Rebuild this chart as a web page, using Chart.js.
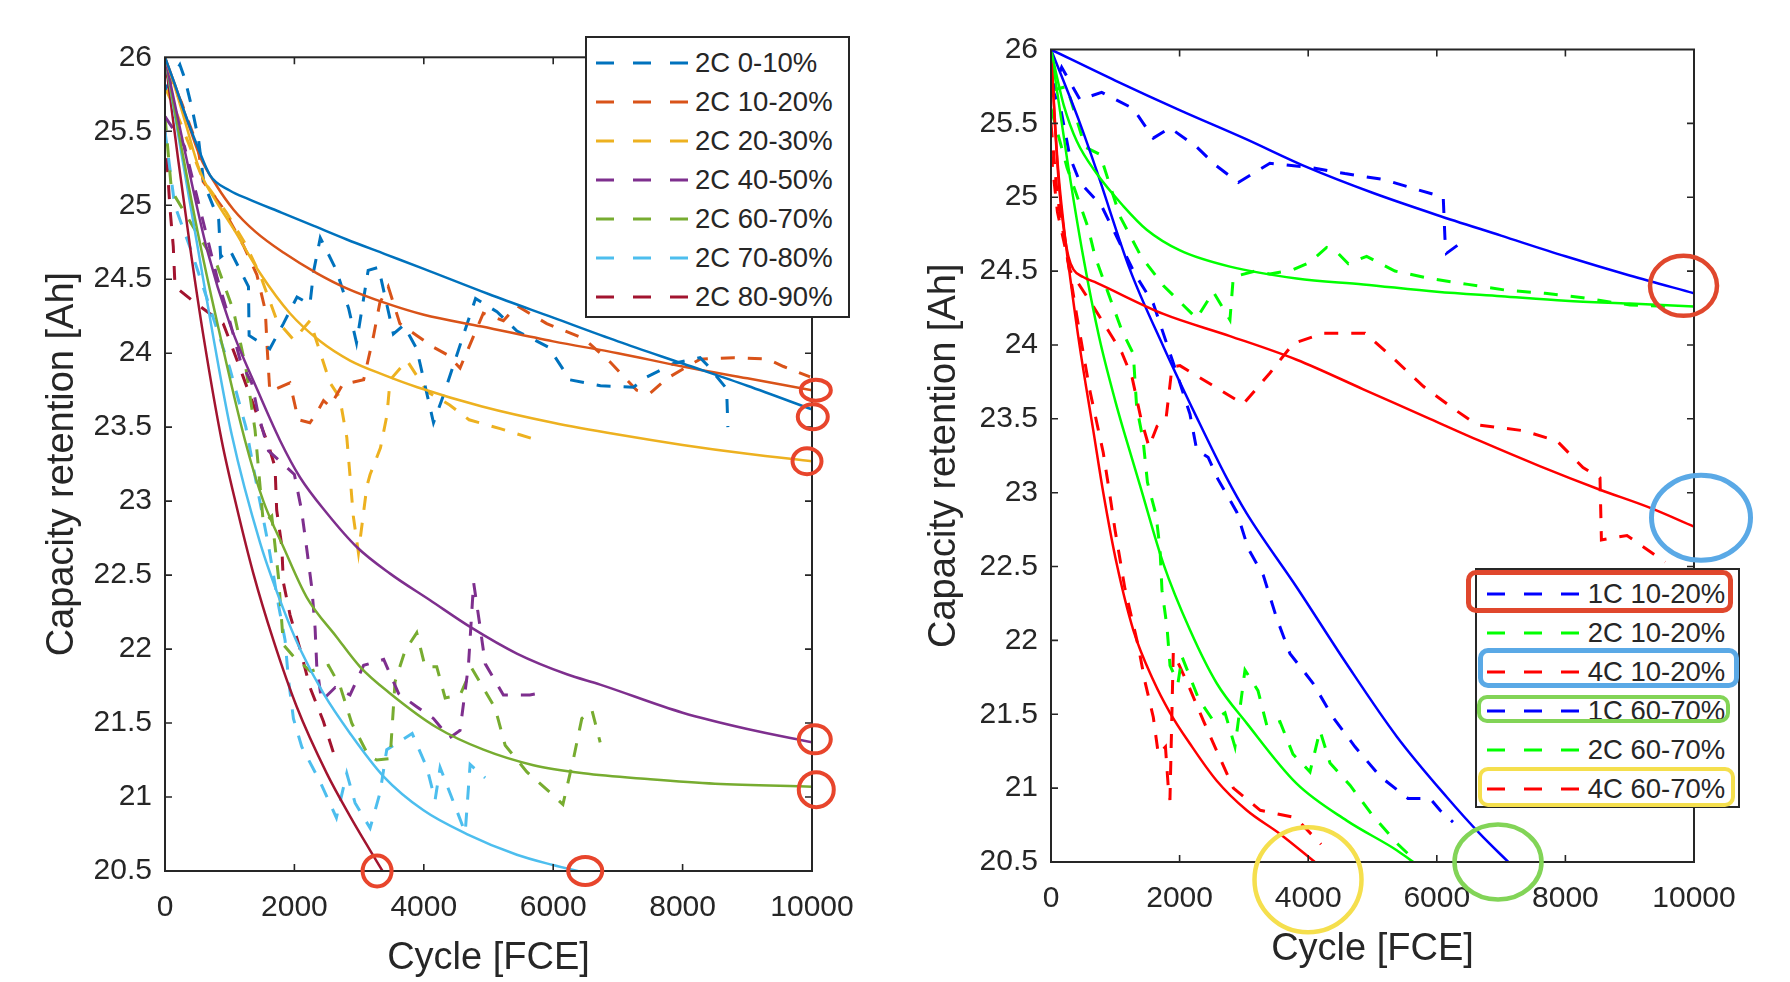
<!DOCTYPE html>
<html>
<head>
<meta charset="utf-8">
<script src="https://cdn.jsdelivr.net/npm/chart.js@4.4.1/dist/chart.umd.min.js"></script>
<style>
  body { margin: 0; background: #fff; }
  #wrap { position: relative; width: 1790px; height: 982px; overflow: hidden;
          font-family: 'Liberation Sans', Arial, sans-serif; color: #262626; }
  canvas { position: absolute; top: 0; }
  .legend { position: absolute; box-sizing: border-box; border: 2px solid #262626; background: #fff; }
  .row { position: absolute; left: 0; height: 36px; display: flex; align-items: center;
         font-size: 27.5px; white-space: nowrap; }
  .mark { position: absolute; box-sizing: border-box; border-radius: 10px; }
</style>
</head>
<body>
<div id="wrap">
  <canvas id="cLeft" width="900" height="982" style="left:0"></canvas>
  <canvas id="cRight" width="890" height="982" style="left:900px"></canvas>
  <div id="legLeft" class="legend" style="left:585px;top:36px;width:265px;height:282px"></div>
  <div id="legRight" class="legend" style="left:1475px;top:568px;width:265px;height:240px"></div>
</div>
<script>
// ---------- left panel: 2C, different SOC windows ----------
const leftLabels = ['2C 0-10%', '2C 10-20%', '2C 20-30%', '2C 40-50%', '2C 60-70%', '2C 70-80%', '2C 80-90%'];
const leftColors = ['#0072BD', '#D95319', '#EDB120', '#7E2F8E', '#77AC30', '#4DBEEE', '#A2142F'];

// measured (dashed)
const mL0x = [0, 230, 310, 420, 520, 600, 830, 860, 1000, 1290, 1300, 1620, 1830, 2040, 2240, 2300, 2400, 2650, 2840, 2960, 3140, 3300, 3530, 3690, 3890, 4150, 4300, 4800, 5130, 5440, 5930, 6260, 6730, 7240, 7450, 7860, 8270, 8380, 8680, 8700];
const mL0y = [25.78, 25.95, 25.85, 25.65, 25.44, 25.15, 24.9, 24.65, 24.7, 24.45, 24.12, 24.03, 24.2, 24.38, 24.33, 24.56, 24.78, 24.56, 24.3, 24.07, 24.56, 24.58, 24.13, 24.19, 24.03, 23.53, 23.71, 24.37, 24.28, 24.15, 24.04, 23.82, 23.78, 23.77, 23.84, 23.93, 23.97, 23.92, 23.76, 23.5];
const mL1x = [0, 250, 510, 590, 880, 1210, 1420, 1550, 1580, 1620, 1930, 2060, 2240, 2350, 2450, 2550, 2760, 2860, 3070, 3220, 3320, 3450, 3630, 3890, 4150, 4360, 4560, 4920, 5230, 5440, 5900, 6470, 6880, 7290, 7500, 7760, 8270, 8790, 9310, 9560, 9970];
const mL1y = [25.9, 25.7, 25.39, 25.16, 24.99, 24.73, 24.53, 24.29, 24.03, 23.74, 23.8, 23.55, 23.53, 23.6, 23.68, 23.64, 23.8, 23.8, 23.82, 24.11, 24.34, 24.45, 24.2, 24.12, 24.04, 23.99, 23.9, 24.27, 24.22, 24.32, 24.2, 24.1, 23.94, 23.75, 23.73, 23.83, 23.96, 23.97, 23.96, 23.91, 23.84];
const mL2x = [0, 200, 590, 950, 1240, 1470, 1730, 1990, 2240, 2550, 2700, 2810, 2860, 2910, 2990, 3120, 3170, 3330, 3430, 3480, 3740, 4050, 4400, 4700, 5180, 5700];
const mL2y = [25.8, 25.6, 25.17, 24.95, 24.74, 24.53, 24.22, 24.09, 24.22, 23.8, 23.7, 23.43, 23.17, 22.9, 22.65, 23.1, 23.18, 23.36, 23.58, 23.82, 23.95, 23.74, 23.65, 23.55, 23.49, 23.42];
const mL3x = [0, 300, 806, 955, 1170, 1340, 1440, 1600, 2000, 2110, 2190, 2270, 2320, 2345, 2420, 2630, 2860, 3070, 3380, 3610, 3890, 4150, 4400, 4560, 4690, 4770, 4870, 4950, 5230, 5640, 5900];
const mL3y = [25.6, 25.4, 24.51, 24.29, 23.94, 23.8, 23.59, 23.34, 23.18, 22.94, 22.68, 22.41, 22.14, 21.89, 21.65, 21.74, 21.69, 21.89, 21.93, 21.7, 21.61, 21.53, 21.4, 21.45, 21.89, 22.45, 22.15, 21.9, 21.69, 21.69, 21.71];
const mL4x = [0, 100, 510, 800, 1057, 1250, 1392, 1520, 1650, 1753, 1830, 1985, 2250, 2526, 2706, 2886, 3144, 3273, 3479, 3556, 3711, 3891, 4020, 4200, 4330, 4562, 4742, 5103, 5257, 5593, 5953, 6150, 6314, 6442, 6597, 6726];
const mL4y = [25.6, 25.1, 24.8, 24.6, 24.29, 23.9, 23.48, 22.85, 22.9, 22.49, 22.03, 21.95, 21.85, 21.89, 21.75, 21.5, 21.28, 21.25, 21.26, 21.78, 21.99, 22.11, 21.88, 21.88, 21.67, 21.69, 21.87, 21.6, 21.35, 21.17, 21.03, 20.95, 21.26, 21.53, 21.59, 21.37];
const mL5x = [0, 150, 400, 700, 1000, 1250, 1443, 1600, 1753, 1856, 1907, 1985, 2113, 2400, 2649, 2809, 2938, 3170, 3324, 3427, 3820, 4046, 4175, 4252, 4640, 4716, 4948];
const mL5y = [25.5, 25.0, 24.7, 24.3, 23.9, 23.5, 23.05, 22.7, 22.3, 22.06, 21.8, 21.53, 21.34, 21.1, 20.86, 21.16, 20.96, 20.79, 21.03, 21.32, 21.43, 21.2, 20.98, 21.2, 20.76, 21.22, 21.13];
const mL6x = [0, 77, 128, 155, 440, 900, 1005, 1200, 1443, 1598, 1701, 1726, 1804, 1830, 1933, 2088, 2242, 2449, 2654];
const mL6y = [25.5, 24.98, 24.72, 24.45, 24.35, 24.2, 24.08, 23.85, 23.56, 23.38, 23.23, 22.94, 22.7, 22.45, 22.23, 22.0, 21.74, 21.51, 21.23];

// fitted model (solid)
const fL0x = [0, 150, 300, 500, 700, 1000, 1300, 1800, 2300, 2800, 3400, 4000, 5000, 6000, 7000, 8000, 9000, 10000];
const fL0y = [26, 25.82, 25.63, 25.4, 25.2, 25.1, 25.04, 24.95, 24.86, 24.77, 24.67, 24.57, 24.4, 24.24, 24.08, 23.93, 23.78, 23.62];
const fL1x = [0, 150, 300, 540, 800, 1060, 1400, 1830, 2350, 2800, 3400, 4000, 4900, 6000, 7000, 8000, 9000, 10000];
const fL1y = [26, 25.82, 25.63, 25.33, 25.13, 24.97, 24.82, 24.68, 24.54, 24.44, 24.34, 24.26, 24.18, 24.08, 24.0, 23.91, 23.83, 23.75];
const fL2x = [0, 150, 300, 550, 800, 1060, 1470, 1930, 2400, 2860, 3400, 3900, 4900, 6000, 7000, 8000, 9000, 10000];
const fL2y = [26, 25.8, 25.58, 25.22, 25.02, 24.84, 24.54, 24.27, 24.08, 23.95, 23.85, 23.77, 23.64, 23.53, 23.45, 23.38, 23.32, 23.27];
const fL3x = [0, 300, 650, 1000, 1400, 1778, 2088, 2500, 2964, 3479, 4098, 4716, 5438, 6211, 6726, 8000, 9000, 10000];
const fL3y = [26, 25.38, 24.7, 24.2, 23.78, 23.41, 23.16, 22.92, 22.69, 22.51, 22.33, 22.15, 21.97, 21.83, 21.76, 21.57, 21.46, 21.37];
const fL4x = [0, 250, 500, 800, 1237, 1520, 1830, 2191, 2655, 3015, 3479, 4201, 4922, 5695, 6468, 7500, 8500, 10000];
const fL4y = [26, 25.4, 24.83, 24.22, 23.41, 23.0, 22.69, 22.35, 22.08, 21.88, 21.7, 21.47, 21.32, 21.215, 21.16, 21.12, 21.09, 21.07];
const fL5x = [0, 250, 500, 750, 1031, 1469, 1830, 2088, 2449, 2861, 3376, 3995, 4665, 5438, 6000, 6468];
const fL5y = [26, 25.36, 24.73, 24.1, 23.45, 22.72, 22.27, 22.0, 21.7, 21.43, 21.14, 20.91, 20.75, 20.61, 20.54, 20.49];
const fL6x = [0, 200, 400, 600, 876, 1108, 1366, 1675, 2036, 2500, 2861, 3170, 3376];
const fL6y = [26, 25.32, 24.68, 24.1, 23.41, 22.96, 22.51, 22.06, 21.61, 21.16, 20.87, 20.64, 20.49];

// red rings at the end of each fit (data units)
const ringLx = [10059, 10012, 9923, 10043, 10066, 3278, 6495];
const ringLy = [23.75, 23.57, 23.27, 21.39, 21.05, 20.50, 20.50];

// ---------- right panel: 1C/2C/4C at 10-20% and 60-70% ----------
const rightLabels = ['1C 10-20%', '2C 10-20%', '4C 10-20%', '1C 60-70%', '2C 60-70%', '4C 60-70%'];
const rightColors = ['#0000FF', '#00FF00', '#FF0000', '#0000FF', '#00FF00', '#FF0000'];

const mR0x = [0, 166, 451, 788, 1280, 1591, 1850, 2266, 2550, 2913, 3405, 4054, 4572, 5168, 5712, 6100, 6127, 6150, 6464];
const mR0y = [25.68, 25.88, 25.66, 25.71, 25.6, 25.4, 25.47, 25.34, 25.22, 25.1, 25.23, 25.2, 25.16, 25.12, 25.05, 25.0, 24.72, 24.62, 24.72];
const mR1x = [0, 244, 529, 762, 1073, 1400, 1750, 2032, 2266, 2524, 2783, 2835, 3172, 3405, 3768, 4027, 4287, 4443, 4624, 4909, 5349, 5893, 6484, 7087, 7683, 8274, 9005, 9751];
const mR1y = [25.72, 25.75, 25.34, 25.29, 24.87, 24.6, 24.4, 24.28, 24.18, 24.36, 24.17, 24.46, 24.5, 24.48, 24.51, 24.56, 24.66, 24.63, 24.55, 24.6, 24.5, 24.45, 24.41, 24.37, 24.35, 24.32, 24.27, 24.26];
const mR2x = [0, 100, 300, 600, 887, 1100, 1261, 1400, 1524, 1650, 1789, 1882, 2006, 2498, 2990, 3405, 3768, 4234, 4883, 5323, 5790, 6256, 6620, 7340, 7869, 8274, 8538, 8560, 8958, 9549];
const mR2y = [25.3, 24.9, 24.5, 24.3, 24.1, 23.95, 23.78, 23.5, 23.31, 23.45, 23.5, 23.85, 23.86, 23.73, 23.6, 23.81, 24.01, 24.08, 24.08, 23.91, 23.72, 23.57, 23.46, 23.42, 23.35, 23.17, 23.1, 22.68, 22.71, 22.53];
const mR3x = [0, 150, 295, 451, 788, 1306, 1591, 1799, 1955, 2162, 2266, 2443, 2598, 2888, 3069, 3302, 3510, 3717, 4075, 4385, 4728, 5117, 5552, 5894, 6050, 6252];
const mR3y = [25.75, 25.6, 25.27, 25.1, 24.94, 24.48, 24.28, 24.01, 23.81, 23.53, 23.29, 23.24, 23.09, 22.87, 22.62, 22.44, 22.15, 21.91, 21.71, 21.48, 21.28, 21.08, 20.93, 20.93, 20.85, 20.77];
const mR4x = [0, 250, 580, 684, 891, 1100, 1280, 1332, 1431, 1500, 1633, 1695, 1726, 1804, 1851, 1975, 2037, 2300, 2519, 2706, 2861, 3017, 3219, 3359, 3561, 3763, 4028, 4183, 4339, 4650, 4992, 5396, 5614];
const mR4y = [25.6, 25.2, 24.79, 24.6, 24.35, 24.1, 23.94, 23.58, 23.36, 23.07, 22.85, 22.62, 22.34, 22.09, 21.83, 21.71, 21.89, 21.6, 21.46, 21.51, 21.28, 21.8, 21.66, 21.42, 21.45, 21.23, 21.11, 21.39, 21.17, 21.02, 20.82, 20.62, 20.53];
const mR5x = [0, 100, 250, 400, 600, 813, 917, 995, 1150, 1353, 1462, 1591, 1669, 1780, 1825, 1850, 1902, 2133, 2366, 2600, 2836, 3255, 3800, 4200];
const mR5y = [25.5, 25.0, 24.6, 24.2, 23.7, 23.27, 22.98, 22.75, 22.35, 21.97, 21.72, 21.48, 21.23, 21.28, 21.0, 20.92, 21.92, 21.7, 21.46, 21.23, 21.0, 20.85, 20.8, 20.62];

const fR0x = [0, 1000, 2000, 3000, 4000, 5000, 6000, 7000, 8000, 9000, 10000];
const fR0y = [26, 25.79, 25.59, 25.4, 25.2, 25.03, 24.88, 24.74, 24.6, 24.47, 24.35];
const fR1x = [0, 100, 200, 400, 710, 1125, 1488, 2006, 2783, 3820, 4857, 6000, 7000, 8000, 9000, 10000];
const fR1y = [26, 25.8, 25.62, 25.38, 25.16, 24.94, 24.78, 24.64, 24.53, 24.45, 24.41, 24.36, 24.33, 24.3, 24.28, 24.26];
const fR2x = [0, 60, 130, 200, 270, 350, 500, 710, 1747, 2783, 3820, 4857, 5893, 6671, 7600, 8538, 9300, 10000];
const fR2y = [26, 25.5, 25.05, 24.78, 24.6, 24.51, 24.46, 24.42, 24.21, 24.06, 23.9, 23.7, 23.5, 23.35, 23.18, 23.02, 22.9, 22.77];
const fR3x = [0, 451, 710, 1228, 1747, 2266, 2732, 3043, 3821, 4599, 5376, 6154, 6672, 7112];
const fR3y = [26, 25.5, 25.18, 24.51, 23.99, 23.51, 23.1, 22.86, 22.36, 21.84, 21.35, 20.94, 20.69, 20.5];
const fR4x = [0, 250, 500, 750, 1000, 1130, 1384, 1747, 2162, 2577, 3043, 3821, 4599, 5376, 5635];
const fR4y = [26, 25.26, 24.6, 24.05, 23.62, 23.42, 23.05, 22.52, 22.07, 21.71, 21.44, 21.03, 20.78, 20.58, 20.5];
const fR5x = [0, 100, 200, 300, 450, 658, 813, 1021, 1280, 1591, 1851, 2162, 2577, 3043, 3561, 4132];
const fR5y = [26, 25.25, 24.8, 24.45, 23.98, 23.42, 23.0, 22.52, 22.07, 21.73, 21.51, 21.3, 21.05, 20.85, 20.69, 20.49];

const ringRx = [9837, 10109, 3997, 6952];
const ringRy = [24.40, 22.83, 20.38, 20.50];

// ---------- styles ----------
const ringLStyle = [[15, 10.5], [15, 12.5], [14.5, 13], [16, 14], [17.5, 17.5], [14.5, 15.5], [17, 14]];
const ringRStyle = [
  { color: '#E0472D', r: [33.5, 30], w: 4.5 },
  { color: '#5AA9E6', r: [49.5, 42.5], w: 5 },
  { color: '#F5DF4D', r: [53.5, 52.5], w: 4.5 },
  { color: '#82D457', r: [43.5, 37.5], w: 4.5 }
];
const TXT = '#262626';

function pts(xs, ys) { return xs.map((x, i) => ({ x: x, y: ys[i] })); }

function measured(label, color, xs, ys) {
  return { label: label, data: pts(xs, ys), borderColor: color, borderWidth: 3,
           borderDash: [14, 13], pointRadius: 0, tension: 0, fill: false };
}
function fitted(label, color, xs, ys) {
  return { label: label + ' fit', data: pts(xs, ys), borderColor: color, borderWidth: 2.5,
           pointRadius: 0, cubicInterpolationMode: 'monotone', fill: false };
}

const frameTicks = {
  id: 'frameTicks',
  afterDatasetsDraw(chart, args, opts) {
    const { ctx, chartArea: a, scales: { x, y } } = chart;
    ctx.save();
    ctx.strokeStyle = TXT;
    ctx.lineWidth = 1.6;
    ctx.beginPath();
    x.ticks.forEach(t => {
      if (t.value <= x.min || t.value >= x.max) return;
      const p = x.getPixelForValue(t.value);
      ctx.moveTo(p, a.bottom); ctx.lineTo(p, a.bottom - 7);
      ctx.moveTo(p, a.top); ctx.lineTo(p, a.top + 7);
    });
    y.ticks.forEach(t => {
      if (t.value <= y.min || t.value >= y.max) return;
      const p = y.getPixelForValue(t.value);
      ctx.moveTo(a.left, p); ctx.lineTo(a.left + 7, p);
      ctx.moveTo(a.right, p); ctx.lineTo(a.right - 7, p);
    });
    ctx.stroke();
    ctx.lineWidth = 2;
    ctx.strokeRect(a.left, a.top, a.right - a.left, a.bottom - a.top);
    (opts.rings || []).forEach(r => {
      ctx.strokeStyle = r.color;
      ctx.lineWidth = r.w;
      ctx.beginPath();
      ctx.ellipse(x.getPixelForValue(r.x), y.getPixelForValue(r.y), r.r[0], r.r[1], 0, 0, Math.PI * 2);
      ctx.stroke();
    });
    ctx.restore();
  }
};

function makeOptions(p) {
  return {
    responsive: false, animation: false, events: [],
    layout: { padding: { left: 0, top: p.top, right: p.right, bottom: 0 } },
    plugins: { legend: { display: false }, tooltip: { enabled: false }, frameTicks: { rings: p.rings } },
    scales: {
      x: {
        type: 'linear', min: 0, max: 10000,
        ticks: { stepSize: 2000, padding: 19, color: TXT, font: { size: 30 }, maxRotation: 0, callback: v => String(v) },
        grid: { display: false, drawTicks: false }, border: { display: false },
        title: { display: true, text: 'Cycle [FCE]', color: TXT, font: { size: 38 }, padding: { top: 0, bottom: p.xTitlePad } },
        afterFit: s => { s.height = p.xAxisH; s.paddingLeft = 0; s.paddingRight = 0; }
      },
      y: {
        type: 'linear', min: 20.5, max: 26,
        ticks: { stepSize: 0.5, padding: 13, color: TXT, font: { size: 30 }, callback: v => String(v) },
        grid: { display: false, drawTicks: false }, border: { display: false },
        title: { display: true, text: 'Capacity retention [Ah]', color: TXT, font: { size: 38 }, padding: { top: p.yTitlePad, bottom: 0 } },
        afterFit: s => { s.width = p.yAxisW; s.paddingTop = 0; s.paddingBottom = 0; }
      }
    }
  };
}

Chart.defaults.font.family = "'Liberation Sans', Arial, Helvetica, sans-serif";

const measL = [[mL0x, mL0y], [mL1x, mL1y], [mL2x, mL2y], [mL3x, mL3y], [mL4x, mL4y], [mL5x, mL5y], [mL6x, mL6y]];
const fitL = [[fL0x, fL0y], [fL1x, fL1y], [fL2x, fL2y], [fL3x, fL3y], [fL4x, fL4y], [fL5x, fL5y], [fL6x, fL6y]];
const measR = [[mR0x, mR0y], [mR1x, mR1y], [mR2x, mR2y], [mR3x, mR3y], [mR4x, mR4y], [mR5x, mR5y]];
const fitR = [[fR0x, fR0y], [fR1x, fR1y], [fR2x, fR2y], [fR3x, fR3y], [fR4x, fR4y], [fR5x, fR5y]];

const dsL = [];
leftLabels.forEach((l, i) => dsL.push(fitted(l, leftColors[i], fitL[i][0], fitL[i][1])));
leftLabels.forEach((l, i) => dsL.push(measured(l, leftColors[i], measL[i][0], measL[i][1])));
const dsR = [];
rightLabels.forEach((l, i) => dsR.push(fitted(l, rightColors[i], fitR[i][0], fitR[i][1])));
rightLabels.forEach((l, i) => dsR.push(measured(l, rightColors[i], measR[i][0], measR[i][1])));

new Chart(document.getElementById('cLeft'), {
  type: 'line',
  data: { datasets: dsL },
  options: makeOptions({
    top: 57.3, right: 88, xAxisH: 111, yAxisW: 165, xTitlePad: 1, yTitlePad: 40,
    rings: ringLx.map((x, i) => ({ x: x, y: ringLy[i], color: '#E8452C', w: 4, r: ringLStyle[i] }))
  }),
  plugins: [frameTicks]
});

new Chart(document.getElementById('cRight'), {
  type: 'line',
  data: { datasets: dsR },
  options: makeOptions({
    top: 49.5, right: 96, xAxisH: 120, yAxisW: 151, xTitlePad: 10, yTitlePad: 22,
    rings: ringRx.map((x, i) => Object.assign({ x: x, y: ringRy[i] }, ringRStyle[i]))
  }),
  plugins: [frameTicks]
});

// ---------- legends (html) ----------
function buildLegend(el, labels, colors, firstRow, rowStep, lineLeft, textGap) {
  labels.forEach((l, i) => {
    const row = document.createElement('div');
    row.className = 'row';
    row.style.top = (firstRow + i * rowStep - 18) + 'px';
    row.style.left = lineLeft + 'px';
    row.innerHTML =
      '<svg width="92" height="6" style="margin-right:' + textGap + 'px">' +
      '<line x1="0" y1="3" x2="92" y2="3" stroke="' + colors[i] + '" stroke-width="3.2" stroke-dasharray="18 19"/></svg>' +
      '<span>' + l + '</span>';
    el.appendChild(row);
  });
}
buildLegend(document.getElementById('legLeft'), leftLabels, leftColors, 24.5, 39.1, 9, 7);
buildLegend(document.getElementById('legRight'), rightLabels, rightColors, 24, 39, 9.7, 9);

// highlight boxes around some right-legend entries
const hiRows = [0, 2, 3, 5];
const hiColors = ['#E0472D', '#5AA9E6', '#82D457', '#F5DF4D'];
const hiBoxes = [[1465.7, 570, 267.6, 43.3, 5], [1478, 648, 261, 40, 5], [1476.7, 695, 253.3, 28.3, 4.5], [1478, 766.7, 257, 40, 4.5]];
hiRows.forEach((r, i) => {
  const b = hiBoxes[i];
  const d = document.createElement('div');
  d.className = 'mark';
  d.style.cssText += 'left:' + b[0] + 'px;top:' + b[1] + 'px;width:' + b[2] + 'px;height:' + b[3] +
    'px;border:' + b[4] + 'px solid ' + hiColors[i] + ';';
  document.getElementById('wrap').appendChild(d);
});
</script>
</body>
</html>
